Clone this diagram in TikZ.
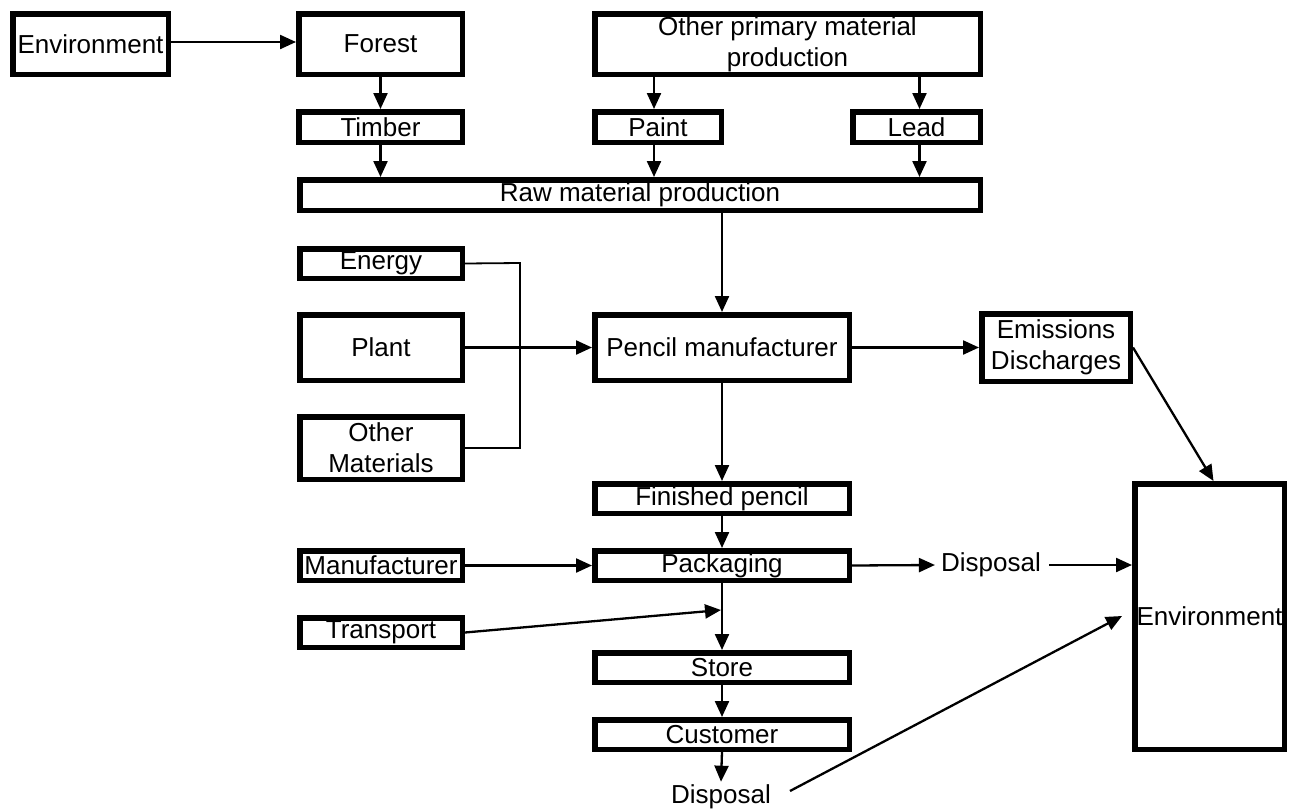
\documentclass[tikz,border=0pt]{standalone}
\usepackage{fontspec}
\setmainfont{Liberation Sans}
\usetikzlibrary{arrows.meta,calc}
\tikzset{
  box/.style={draw=black, line width=5.5pt, inner sep=0pt, align=center, font=\fontsize{26}{31}\selectfont},
  lbl/.style={inner sep=0pt, font=\fontsize{26}{31}\selectfont},
  arr/.style={line width=2.3pt, -{Triangle[length=16pt,width=14pt]}},
  link/.style={line width=1.8pt}
}
\newcommand\bx[6]{\node[box,minimum width={#4-#2-5.5},minimum height={#5-#3-5.5}] (#1) at ({(#2+#4)/2},{(#3+#5)/2}) {#6};}
\begin{document}
\begin{tikzpicture}[x=1pt,y=-1pt]
\useasboundingbox (0,0) rectangle (1291,811);
% boxes
\bx{envL}{10}{11}{171}{77}{Environment}
\bx{forest}{296}{11}{465}{77}{Forest}
\bx{other}{592}{11}{983}{77}{Other primary material\\production}
\bx{timber}{296}{109}{465}{145}{Timber}
\bx{paint}{592}{109}{724}{145}{Paint}
\bx{lead}{850}{109}{983}{145}{Lead}
\bx{raw}{297}{177}{983}{213}{Raw material production}
\bx{energy}{297}{246}{465}{281}{Energy}
\bx{plant}{297}{312}{465}{383}{Plant}
\bx{pencil}{592}{312}{852}{383}{Pencil manufacturer}
\bx{emis}{979}{311}{1133}{384}{Emissions\\Discharges}
\bx{othermat}{297}{414}{465}{482}{Other\\Materials}
\bx{finished}{592}{481}{852}{516}{Finished pencil}
\bx{manuf}{297}{548}{465}{583}{Manufacturer}
\bx{pack}{592}{548}{852}{583}{Packaging}
\bx{transport}{297}{615}{465}{650}{Transport}
\bx{store}{592}{650}{852}{685}{Store}
\bx{customer}{592}{717}{852}{752}{Customer}
\bx{envR}{1132}{481}{1287}{752}{Environment}
\node[lbl] (d1) at (991,565) {Disposal};
\node[lbl] (d2) at (721,797) {Disposal};
\coordinate (br) at (520,263);
\coordinate (tj) at (721,610);
\coordinate (d2s) at (790,791);
\coordinate (e2) at (1122,616);
% connectors
\draw[arr] (envL.east |- 0,42) -- (forest.west |- 0,42);
\draw[arr] (forest.south) -- (timber.north);
\draw[arr] (timber.south) -- (timber.south |- raw.north);
\draw[arr] ($(paint.north |- other.south)+(-4,0)$) -- ($(paint.north)+(-4,0)$);
\draw[arr] ($(paint.south)+(-4,0)$) -- ($(paint.south |- raw.north)+(-4,0)$);
\draw[arr] ($(lead.north |- other.south)+(3,0)$) -- ($(lead.north)+(3,0)$);
\draw[arr] ($(lead.south)+(3,0)$) -- ($(lead.south |- raw.north)+(3,0)$);
\draw[arr] (pencil.north |- raw.south) -- (pencil.north);
\draw[link] (energy.east) -- (br) |- (othermat.east);
\draw[arr] (plant.east) -- (pencil.west);
\draw[arr] (pencil.east) -- (emis.west);
\draw[arr] (emis.east) -- ($(envR.north)+(4,0)$);
\draw[arr] (pencil.south) -- (finished.north);
\draw[arr] (finished.south) -- (pack.north);
\draw[arr] (manuf.east) -- (pack.west);
\draw[arr] (pack.east) -- ($(d1.west)+(-6,0)$);
\draw[arr] ($(d1.east)+(8,0)$) -- (d1.east -| envR.west);
\draw[arr] (transport.east) -- (tj);
\draw[arr] (pack.south) -- (store.north);
\draw[arr] (store.south) -- (customer.north);
\draw[arr] (customer.south) -- ($(d2.north)+(0,-3)$);
\draw[arr] (d2s) -- (e2);
\end{tikzpicture}
\end{document}
